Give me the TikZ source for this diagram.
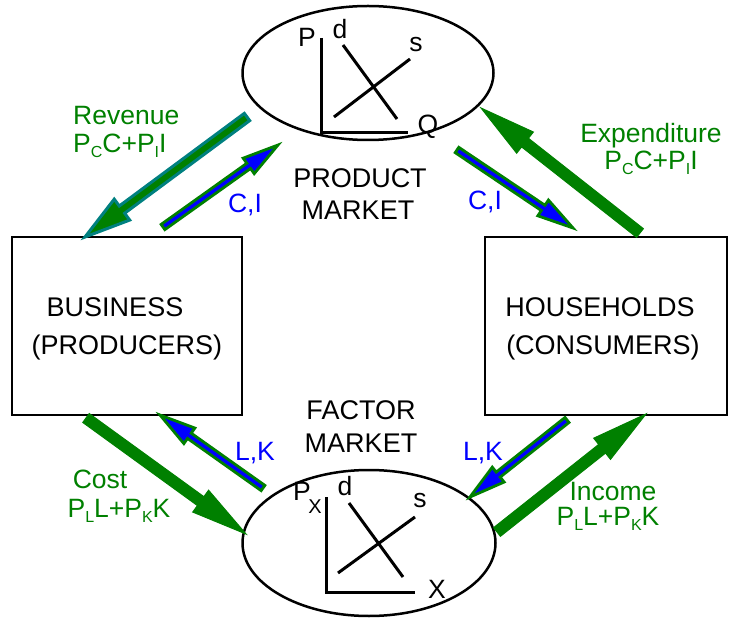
\documentclass[tikz,border=0pt]{standalone}
\usepackage{fontspec}
\setmainfont{Liberation Sans}
\usetikzlibrary{calc,shapes.geometric}
\definecolor{flowgreen}{RGB}{0,128,0}
\definecolor{goodsblue}{RGB}{0,0,255}
\definecolor{revteal}{RGB}{0,128,128}
% fat arrow polygon: tail, tip, shaft half width, head half width, head length, style
\newcommand{\fatarrow}[6]{%
  \coordinate (FAh) at ($(#2)!#5!(#1)$);
  \filldraw[#6] ($(#1)!#3!90:(#2)$) -- ($(FAh)!#3!90:(#2)$) -- ($(FAh)!#4!90:(#2)$)
    -- (#2) -- ($(FAh)!#4!-90:(#2)$) -- ($(FAh)!#3!-90:(#2)$) -- ($(#1)!#3!-90:(#2)$) -- cycle;}
\newcommand{\sbx}[1]{\raisebox{-5pt}{\fontsize{16}{16}\selectfont #1}}
\tikzset{
  txt/.style={inner sep=0pt, anchor=base, font=\fontsize{26.5}{28}\selectfont},
  blk/.style={txt, font=\fontsize{27}{30}\selectfont},
  greenlbl/.style={txt, text=flowgreen},
  bluelbl/.style={txt, text=goodsblue},
  market/.style={ellipse, draw, line width=2.5pt, inner sep=0pt},
  sector/.style={rectangle, draw, line width=2.5pt, inner sep=0pt},
  axisline/.style={line width=3pt},
  moneyflow/.style={fill=flowgreen, draw=flowgreen, line width=1pt},
  goodsflow/.style={fill=goodsblue, draw=flowgreen, line width=2.8pt},
  revflow/.style={fill=flowgreen, draw=revteal, line width=3pt},
}
\begin{document}
\begin{tikzpicture}[x=1pt,y=-1pt]
\useasboundingbox (0,0) rectangle (734,620);
% markets
\node[market, minimum width=251pt, minimum height=134pt] (pm) at (368,73) {};
\node[market, minimum width=253pt, minimum height=146pt] (fm) at (369,543) {};
% sectors
\node[sector, minimum width=230pt, minimum height=178pt] (biz) at (127,326) {};
\node[sector, minimum width=242pt, minimum height=178pt] (hh) at (606,326) {};
% sector texts
\node[blk] (bizA) at (115,317) {BUSINESS};
\node[blk] (bizB) at (127,355) {(PRODUCERS)};
\node[blk] (hhA) at (600,317) {HOUSEHOLDS};
\node[blk] (hhB) at (603,355) {(CONSUMERS)};
% market texts
\node[blk] (pmA) at (360,188) {PRODUCT};
\node[blk] (pmB) at (358,220) {MARKET};
\node[blk] (fmA) at (361,420) {FACTOR};
\node[blk] (fmB) at (361,452) {MARKET};
% product market graph
\draw[axisline] (321,38) -- (321,133) -- (408,133);
\draw[axisline] (343,45) -- (397,119);
\draw[axisline] (334,117) -- (410,59);
\node[txt] (pP) at (307,47) {P};
\node[txt] (pd) at (340,39) {d};
\node[txt] (ps) at (416,52) {s};
\node[txt] (pQ) at (428,134) {Q};
% factor market graph
\draw[axisline] (326,497) -- (326,592) -- (415,592);
\draw[axisline] (349,503) -- (403,577);
\draw[axisline] (338,573) -- (415,517);
\node[txt] (fP) at (302,500) {P};
\node[txt, font=\fontsize{20}{20}\selectfont] (fPx) at (315,513) {X};
\node[txt] (fd) at (345,495) {d};
\node[txt] (fs) at (420,507) {s};
\node[txt] (fX) at (437,598) {X};
% arrow endpoints
\coordinate (revT) at (247,117); \coordinate (revH) at (85,237);
\coordinate (ciLT) at (163,227); \coordinate (ciLH) at (278,145);
\coordinate (ciRT) at (457,150); \coordinate (ciRH) at (573,228);
\coordinate (expT) at (640,233); \coordinate (expH) at (481,108);
\coordinate (costT) at (86,418); \coordinate (costH) at (246,534);
\coordinate (lkLT) at (263,488); \coordinate (lkLH) at (160,415);
\coordinate (lkRT) at (567,420); \coordinate (lkRH) at (470,497);
\coordinate (incT) at (497,532); \coordinate (incH) at (646,414);
% arrows
\fatarrow{revT}{revH}{4.5pt}{13pt}{46pt}{revflow}
\fatarrow{ciLT}{ciLH}{3.2pt}{9.5pt}{36pt}{goodsflow}
\fatarrow{ciRT}{ciRH}{3.2pt}{9.5pt}{36pt}{goodsflow}
\fatarrow{expT}{expH}{5.5pt}{13.5pt}{56pt}{moneyflow}
\fatarrow{costT}{costH}{5.5pt}{13.5pt}{56pt}{moneyflow}
\fatarrow{lkLT}{lkLH}{3.2pt}{9.5pt}{36pt}{goodsflow}
\fatarrow{lkRT}{lkRH}{3.2pt}{9.5pt}{36pt}{goodsflow}
\fatarrow{incT}{incH}{5.5pt}{13.5pt}{56pt}{moneyflow}
% flow labels
\node[greenlbl, anchor=base west] (revA) at (73,125) {Revenue};
\node[greenlbl, anchor=base west] (revB) at (73,153) {P\sbx{C}C+P\sbx{I}I};
\node[greenlbl] (expA) at (651,143) {Expenditure};
\node[greenlbl] (expB) at (651,170) {P\sbx{C}C+P\sbx{I}I};
\node[greenlbl] (costA) at (100,488) {Cost};
\node[greenlbl] (costB) at (119,517) {P\sbx{L}L+P\sbx{K}K};
\node[greenlbl] (incA) at (613,500) {Income};
\node[greenlbl] (incB) at (608,525) {P\sbx{L}L+P\sbx{K}K};
\node[bluelbl] (ciL) at (245,213) {C,I};
\node[bluelbl] (ciR) at (485,210) {C,I};
\node[bluelbl] (lkL) at (255,460) {L,K};
\node[bluelbl] (lkR) at (483,460) {L,K};
\end{tikzpicture}
\end{document}
